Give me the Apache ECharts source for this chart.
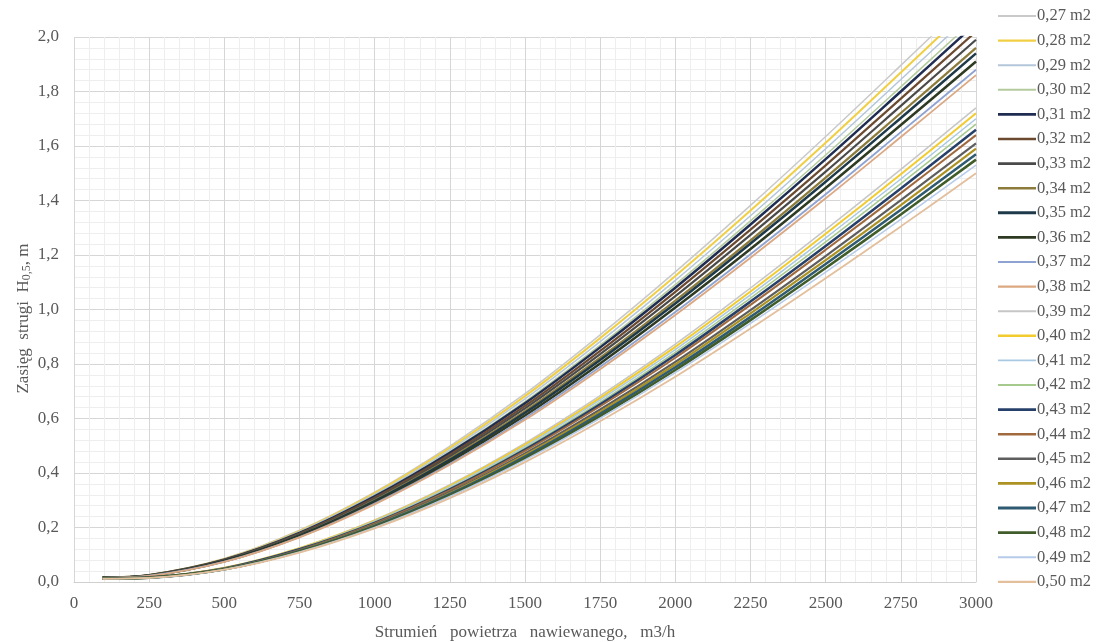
<!DOCTYPE html>
<html>
<head>
<meta charset="utf-8">
<script src="https://cdn.jsdelivr.net/npm/echarts@6/dist/echarts.min.js"></script>
<style>html,body{margin:0;padding:0;background:#fff;}#c{width:1102px;height:642px;}</style>
</head>
<body>
<div id="c"></div>
<script>
// flow rate (m3/h) sample points
const xs = [95, 250, 500, 750, 1000, 1250, 1500, 1750, 2000, 2250, 2500, 2750, 3000];
const xTicks = ['0','250','500','750','1000','1250','1500','1750','2000','2250','2500','2750','3000'];
const names = ['0,27 m2','0,28 m2','0,29 m2','0,30 m2','0,31 m2','0,32 m2','0,33 m2','0,34 m2','0,35 m2','0,36 m2','0,37 m2','0,38 m2',
               '0,39 m2','0,40 m2','0,41 m2','0,42 m2','0,43 m2','0,44 m2','0,45 m2','0,46 m2','0,47 m2','0,48 m2','0,49 m2','0,50 m2'];
const s027 = [0.017, 0.026, 0.086, 0.190, 0.330, 0.499, 0.691, 0.907, 1.138, 1.382, 1.635, 1.896, 2.16];
const s028 = [0.017, 0.026, 0.085, 0.187, 0.326, 0.492, 0.682, 0.895, 1.123, 1.363, 1.612, 1.870, 2.13];
const s029 = [0.017, 0.025, 0.084, 0.185, 0.321, 0.485, 0.672, 0.882, 1.107, 1.344, 1.590, 1.844, 2.10];
const s030 = [0.017, 0.025, 0.083, 0.182, 0.317, 0.478, 0.662, 0.869, 1.091, 1.325, 1.567, 1.817, 2.07];
const s031 = [0.016, 0.025, 0.082, 0.180, 0.314, 0.474, 0.656, 0.861, 1.080, 1.312, 1.552, 1.800, 2.05];
const s032 = [0.016, 0.024, 0.081, 0.178, 0.309, 0.467, 0.646, 0.848, 1.065, 1.293, 1.529, 1.774, 2.02];
const s033 = [0.016, 0.024, 0.080, 0.175, 0.304, 0.460, 0.637, 0.836, 1.049, 1.274, 1.506, 1.747, 1.99];
const s034 = [0.016, 0.024, 0.078, 0.172, 0.300, 0.453, 0.627, 0.823, 1.033, 1.254, 1.484, 1.721, 1.96];
const s035 = [0.016, 0.023, 0.078, 0.171, 0.297, 0.448, 0.621, 0.815, 1.022, 1.242, 1.469, 1.703, 1.94];
const s036 = [0.015, 0.023, 0.076, 0.168, 0.292, 0.441, 0.611, 0.802, 1.007, 1.222, 1.446, 1.677, 1.91];
const s037 = [0.015, 0.023, 0.075, 0.165, 0.288, 0.434, 0.602, 0.790, 0.991, 1.203, 1.423, 1.651, 1.88];
const s038 = [0.015, 0.022, 0.074, 0.164, 0.285, 0.430, 0.595, 0.781, 0.980, 1.190, 1.408, 1.633, 1.86];
const s039 = [0.014, 0.017, 0.052, 0.125, 0.228, 0.357, 0.510, 0.684, 0.873, 1.079, 1.293, 1.514, 1.74];
const s040 = [0.014, 0.017, 0.052, 0.124, 0.225, 0.353, 0.504, 0.676, 0.863, 1.066, 1.278, 1.496, 1.72];
const s041 = [0.014, 0.017, 0.051, 0.122, 0.223, 0.349, 0.498, 0.668, 0.853, 1.054, 1.263, 1.479, 1.70];
const s042 = [0.013, 0.017, 0.050, 0.121, 0.220, 0.344, 0.492, 0.660, 0.843, 1.042, 1.248, 1.462, 1.68];
const s043 = [0.013, 0.017, 0.050, 0.120, 0.217, 0.340, 0.486, 0.652, 0.833, 1.029, 1.233, 1.444, 1.66];
const s044 = [0.013, 0.016, 0.049, 0.118, 0.215, 0.336, 0.481, 0.645, 0.823, 1.017, 1.219, 1.427, 1.64];
const s045 = [0.013, 0.016, 0.048, 0.116, 0.211, 0.330, 0.472, 0.633, 0.808, 0.998, 1.196, 1.401, 1.61];
const s046 = [0.013, 0.016, 0.048, 0.114, 0.208, 0.326, 0.466, 0.625, 0.798, 0.986, 1.181, 1.383, 1.59];
const s047 = [0.013, 0.016, 0.047, 0.113, 0.206, 0.322, 0.460, 0.617, 0.788, 0.973, 1.167, 1.366, 1.57];
const s048 = [0.012, 0.016, 0.047, 0.112, 0.203, 0.318, 0.454, 0.609, 0.778, 0.961, 1.152, 1.349, 1.55];
const s049 = [0.012, 0.015, 0.046, 0.110, 0.200, 0.314, 0.448, 0.601, 0.768, 0.949, 1.137, 1.331, 1.53];
const s050 = [0.012, 0.015, 0.045, 0.108, 0.197, 0.308, 0.440, 0.590, 0.753, 0.930, 1.115, 1.305, 1.50];
const seriesValues = [s027,s028,s029,s030,s031,s032,s033,s034,s035,s036,s037,s038,
                      s039,s040,s041,s042,s043,s044,s045,s046,s047,s048,s049,s050];

const colors = ['#c9c9c9','#f0cf45','#b3c6da','#b3cb9c','#1f2d52','#6b4a30','#4a4a4a','#8c7b3a','#1e3a4a','#2e3a22','#8ea3d2','#dba882',
                '#c6c6c6','#f2cc2e','#a9c9e2','#a6c98e','#27406a','#a06a3e','#5e5e5e','#ac9222','#2f5b72','#405c2a','#b6cbea','#e3bf9c'];
const widths = [1.5,2,1.5,1.5,2.5,2.2,2.2,2.2,2.5,2.5,1.8,1.8,
                1.5,2,1.5,1.5,2.5,2,2.2,2.2,2.5,2.5,1.5,1.8];

const chart = echarts.init(document.getElementById('c'));
const serif = 'Liberation Serif';
const series = names.map((n, i) => ({
  name: n,
  type: 'line',
  smooth: 0.35,
  symbol: 'none',
  clip: true,
  lineStyle: { color: colors[i], width: widths[i] },
  itemStyle: { color: colors[i] },
  data: xs.map((x, j) => [x, seriesValues[i][j]])
}));

const legendData = names.map((n, i) => {
  const t = widths[i] + 0.4;
  const y0 = (8 - t / 2).toFixed(2), y1 = (8 + t / 2).toFixed(2);
  return { name: n, icon: 'path://M0,0M0,16M0,' + y0 + 'H38V' + y1 + 'H0Z' };
});

chart.setOption({
  backgroundColor: '#ffffff',
  animation: false,
  grid: { left: 74, right: 126, top: 37, bottom: 60, outerBoundsMode: 'none', containLabel: false },
  legend: {
    orient: 'vertical',
    left: 998, top: 7.5, padding: 0,
    itemWidth: 38, itemHeight: 16, itemGap: 7.6, itemSymbolKeepAspect: false,
    textStyle: { fontFamily: serif, fontSize: 16.5, color: '#595959', lineHeight: 17, padding: [0,0,0,-4] },
    data: legendData
  },
  xAxis: {
    type: 'value', min: 0, max: 3000, interval: 250,
    name: 'Strumień   powietrza   nawiewanego,   m3/h',
    nameLocation: 'middle', nameGap: 42, nameMoveOverlap: false,
    nameTextStyle: { fontFamily: serif, fontSize: 17, color: '#595959' },
    axisLabel: { fontFamily: serif, fontSize: 17, color: '#595959', margin: 13,
      formatter: (v) => xTicks[Math.round(v / 250)] },
    axisLine: { show: true, lineStyle: { color: '#d0d0d0' } },
    axisTick: { show: false },
    splitLine: { show: true, lineStyle: { color: '#d6d6d6', width: 1 } },
    minorTick: { show: false, splitNumber: 5 },
    minorSplitLine: { show: true, lineStyle: { color: '#eeeeee', width: 1 } }
  },
  yAxis: {
    type: 'value', min: 0, max: 2, interval: 0.2,
    name: '{a|Zasięg  strugi  H}{s|0,5}{a|, m}',
    nameLocation: 'middle', nameGap: 41, nameRotate: 90, nameMoveOverlap: false,
    nameTextStyle: { padding: [0, 0, 0, -18], rich: {
      a: { fontFamily: serif, fontSize: 17, color: '#595959' },
      s: { fontFamily: serif, fontSize: 12, color: '#595959', verticalAlign: 'bottom', padding: [7,0,0,0] }
    } },
    axisLabel: { fontFamily: serif, fontSize: 17, color: '#595959', margin: 15,
      formatter: (v) => v.toFixed(1).replace('.', ',') },
    axisLine: { show: false },
    axisTick: { show: false },
    splitLine: { show: true, lineStyle: { color: '#d6d6d6', width: 1 } },
    minorTick: { show: false, splitNumber: 5 },
    minorSplitLine: { show: true, lineStyle: { color: '#eeeeee', width: 1 } }
  },
  series: series
});
</script>
</body>
</html>
